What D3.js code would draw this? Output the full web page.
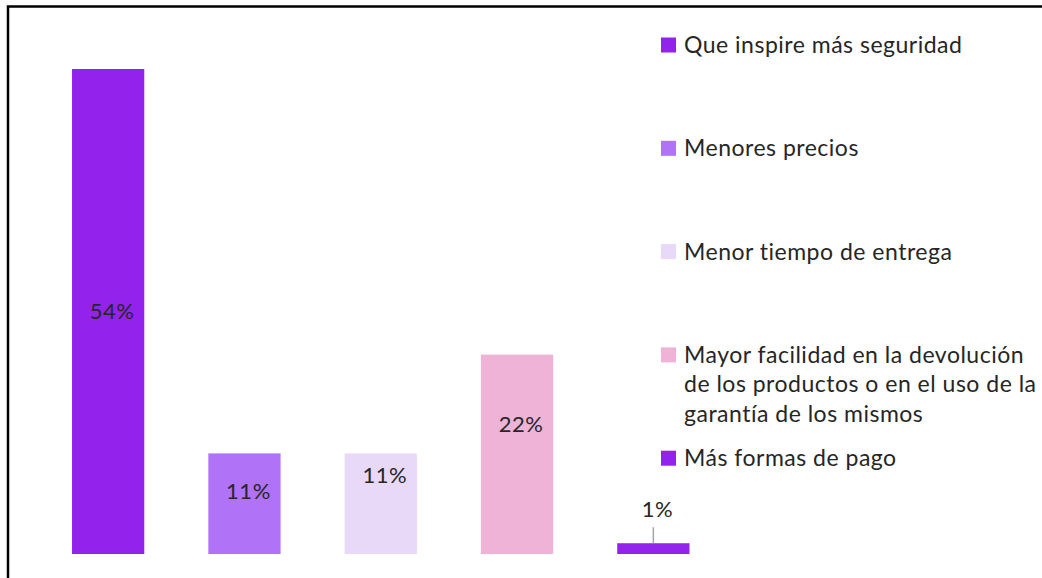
<!DOCTYPE html>
<meta charset="utf-8">
<style>
  body { margin: 0; background: #fff; }
  svg text { font-family: Lato, "Open Sans", sans-serif; fill: #262626; }
  .frame { stroke: #000; stroke-width: 2.5px; fill: none; }
</style>
<body>
<svg width="1042" height="578"></svg>
<script src="https://cdn.jsdelivr.net/npm/d3@7"></script>
<script>

// categories and values
var categories = [
  "Que inspire más seguridad",
  "Menores precios",
  "Menor tiempo de entrega",
  "Mayor facilidad en la devolución de los productos o en el uso de la garantía de los mismos",
  "Más formas de pago"
];
var values = [54, 11.2, 11.2, 22.2, 1.2];
var labels = ["54%", "11%", "11%", "22%", "1%"];
var legendLines = [
  ["Que inspire más seguridad"],
  ["Menores precios"],
  ["Menor tiempo de entrega"],
  ["Mayor facilidad en la devolución", "de los productos o en el uso de la", "garantía de los mismos"],
  ["Más formas de pago"]
];

var colors = ["#9322ed", "#b072f6", "#e9d9f8", "#eeb3d7", "#9322ed"];
// where the data label sits, as a share of the bar height from its top (-1 = above, with a leader)
var labelPos = [0.5, 0.38, 0.22, 0.35, -1];

var svg = d3.select("svg"),
    width = +svg.attr("width"),
    height = +svg.attr("height");

// frame: only top and left edges show in the picture
svg.append("path")
    .attr("class", "frame")
    .attr("d", "M8,600 L8,6.5 L1042,6.5");

var x = d3.scaleBand()
    .domain(categories)
    .range([40, 721.5])
    .paddingInner(0.47)
    .paddingOuter(0.235);

var y = d3.scaleLinear()
    .domain([0, 54])
    .range([554, 69]);

var bars = svg.append("g").selectAll("rect")
    .data(categories)
    .enter().append("rect")
      .attr("x", function(d) { return x(d); })
      .attr("y", function(d, i) { return y(values[i]); })
      .attr("width", x.bandwidth())
      .attr("height", function(d, i) { return y(0) - y(values[i]); })
      .attr("fill", function(d, i) { return colors[i]; });

var lab = svg.append("g").selectAll("text")
    .data(categories)
    .enter().append("text")
      .attr("text-anchor", "middle")
      .attr("dy", "0.35em")
      .style("font-size", "22px")
      .style("letter-spacing", "0.5px")
      .attr("x", function(d) { return x(d) + x.bandwidth() / 2 + 4; })
      .attr("y", function(d, i) {
        var top = y(values[i]), h = y(0) - top;
        if (labelPos[i] < 0) return top - 34;
        return top + h * labelPos[i];
      })
      .text(function(d, i) { return labels[i]; });

// leader line for the small bar
categories.forEach(function(d, i) {
  if (labelPos[i] >= 0) return;
  var cx = x(d) + x.bandwidth() / 2;
  svg.append("line")
      .attr("x1", cx).attr("x2", cx)
      .attr("y1", y(values[i])).attr("y2", y(values[i]) - 16)
      .attr("stroke", "#a6a6a6")
      .attr("stroke-width", 1.5);
});

// legend
var legend = svg.selectAll(".legend")
    .data(categories)
    .enter().append("g")
      .attr("class", "legend")
      .attr("transform", function(d, i) { return "translate(661," + (45 + i * 103.3) + ")"; });

legend.append("rect")
    .attr("x", 0)
    .attr("y", -7.5)
    .attr("width", 15)
    .attr("height", 15)
    .attr("fill", function(d, i) { return colors[i]; });

legend.append("text")
    .attr("x", 23)
    .attr("y", 0)
    .style("font-size", "23px")
    .style("letter-spacing", "0.5px")
    .each(function(d, i) {
      var t = d3.select(this);
      legendLines[i].forEach(function(line, j) {
        t.append("tspan")
          .attr("x", 23)
          .attr("y", j * 29.5)
          .attr("dy", "0.35em")
          .text(line);
      });
    });

</script>
</body>
